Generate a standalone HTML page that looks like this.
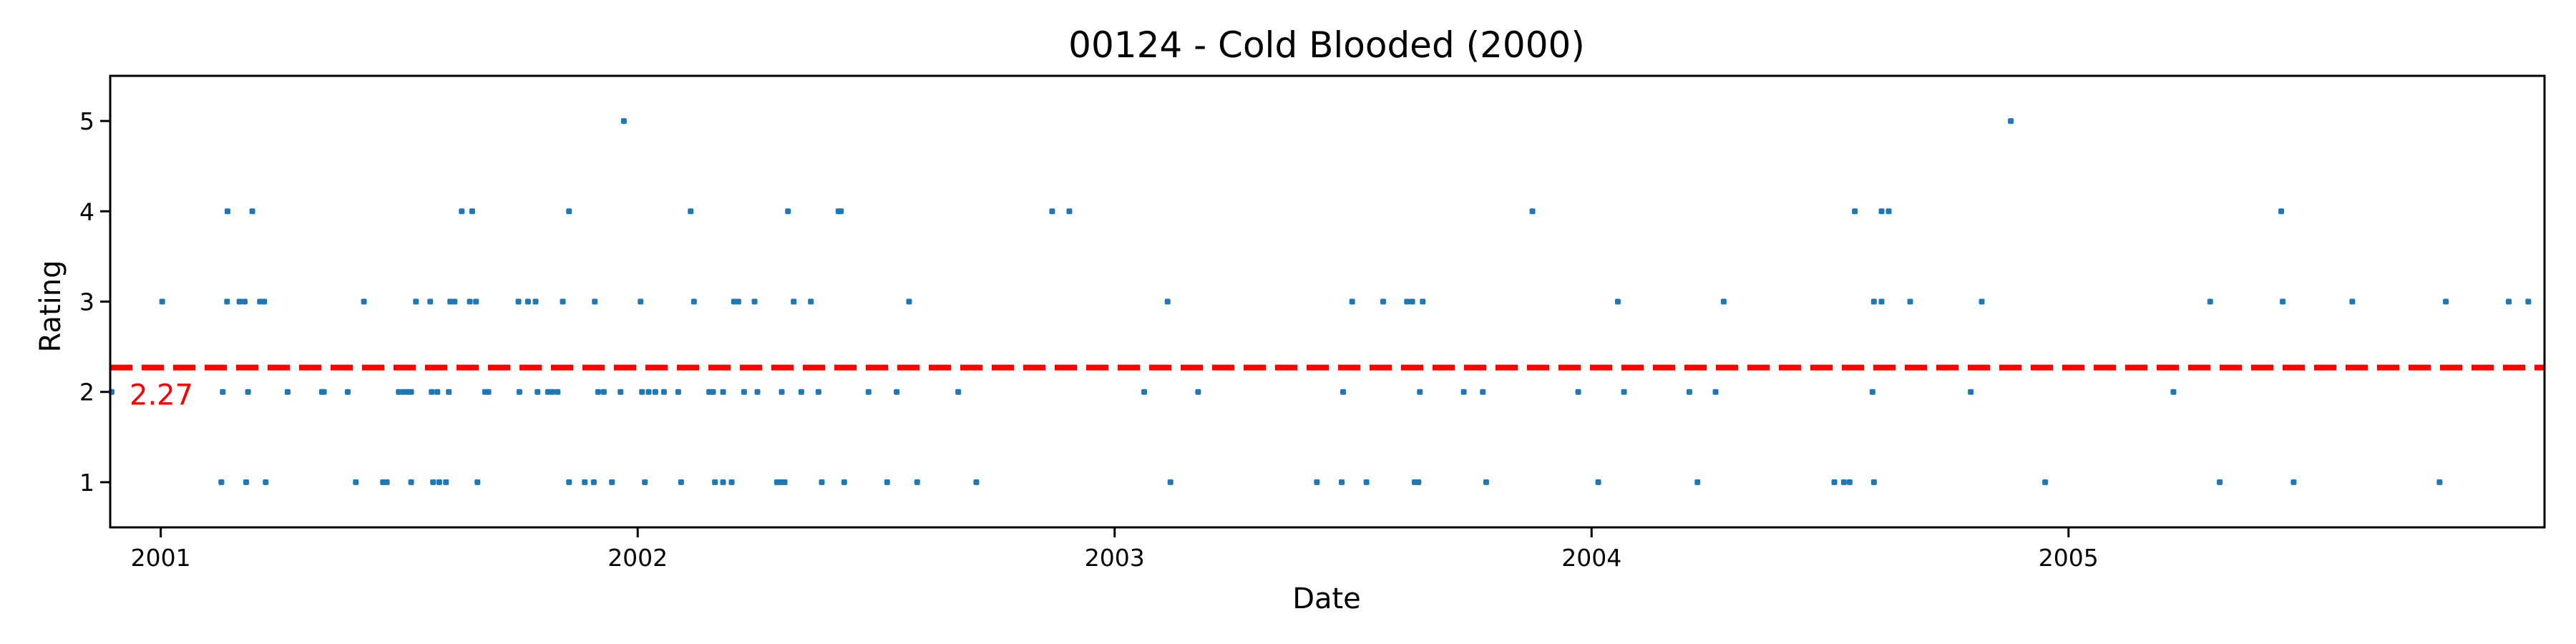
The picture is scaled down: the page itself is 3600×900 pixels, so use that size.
<!DOCTYPE html>
<html><head><meta charset="utf-8"><style>
html,body{margin:0;padding:0;background:#fff;}
svg{display:block;font-family:"DejaVu Sans","Liberation Sans",sans-serif;}
</style></head><body>
<svg id="chart" width="3600" height="900" viewBox="0 0 3600 900" xmlns="http://www.w3.org/2000/svg">
<rect width="3600" height="900" fill="#fff"/>
<text x="1854" y="80" font-size="50" text-anchor="middle" fill="#000">00124 - Cold Blooded (2000)</text>
<g id="ticks"></g>
<g id="marks"></g>
<rect x="154" y="106" width="3402" height="631" fill="none" stroke="#000" stroke-width="3"/>
<text x="1854" y="850" font-size="40" text-anchor="middle" fill="#000">Date</text>
<text x="0" y="0" font-size="40" text-anchor="middle" fill="#000" transform="translate(84,428) rotate(-90)">Rating</text>
</svg>
<script>
const meanRating = 2.27;
const xTickYears = [2001, 2002, 2003, 2004, 2005];
const xTickLabels = ["2001", "2002", "2003", "2004", "2005"];
const yTickValues = [1, 2, 3, 4, 5];
const yTickLabels = ["1", "2", "3", "4", "5"];
const dates5 = [2001.971, 2004.879];
const dates4 = [2001.140,2001.192,2001.631,2001.653,2001.856,2002.111,2002.315,2002.421,2002.426,2002.869,2002.905,2003.876,2004.552,2004.608,2004.623,2005.446];
const dates3 = [2001.003,2001.139,2001.165,2001.176,2001.208,2001.217,2001.426,2001.535,2001.565,2001.607,2001.616,2001.648,2001.661,2001.750,2001.770,2001.786,2001.843,2001.910,2002.006,2002.118,2002.202,2002.211,2002.245,2002.327,2002.363,2002.569,2003.111,2003.498,2003.563,2003.613,2003.624,2003.646,2004.055,2004.277,2004.592,2004.608,2004.668,2004.818,2005.297,2005.449,2005.595,2005.791,2005.923,2005.964];
const dates2 = [2000.897,2001.130,2001.183,2001.266,2001.338,2001.342,2001.392,2001.499,2001.509,2001.518,2001.525,2001.568,2001.580,2001.604,2001.680,2001.687,2001.752,2001.790,2001.812,2001.821,2001.832,2001.917,2001.929,2001.964,2002.009,2002.023,2002.037,2002.055,2002.085,2002.150,2002.158,2002.179,2002.223,2002.251,2002.302,2002.343,2002.379,2002.484,2002.543,2002.672,2003.062,2003.175,2003.479,2003.640,2003.732,2003.772,2003.972,2004.068,2004.205,2004.260,2004.589,2004.795,2005.220];
const dates1 = [2001.127,2001.179,2001.220,2001.409,2001.466,2001.474,2001.525,2001.571,2001.584,2001.598,2001.664,2001.856,2001.889,2001.908,2001.946,2002.015,2002.091,2002.162,2002.179,2002.197,2002.292,2002.299,2002.308,2002.386,2002.433,2002.523,2002.586,2002.710,2003.117,2003.424,2003.476,2003.528,2003.629,2003.637,2003.779,2004.014,2004.222,2004.509,2004.529,2004.541,2004.592,2004.951,2005.317,2005.472,2005.778];

const NS = "http://www.w3.org/2000/svg";
const X0 = 154, X1 = 3556, Y0 = 106, Y1 = 737;
const xMin = 2000.894, xMax = 2005.998, yMin = 0.5, yMax = 5.5;
function xScale(v){ return X0 + (v - xMin) / (xMax - xMin) * (X1 - X0); }
function yScale(v){ return Y1 - (v - yMin) / (yMax - yMin) * (Y1 - Y0); }
function mk(tag, attrs){ const e = document.createElementNS(NS, tag); for (const k in attrs) e.setAttribute(k, attrs[k]); return e; }

const ticks = document.getElementById('ticks');
xTickYears.forEach((yr, i) => {
  const x = xScale(yr);
  const t = mk('line', {x1:x, x2:x, y1:Y1, y2:Y1+14, stroke:'#000', 'stroke-width':3});
  
  
  ticks.appendChild(t);
  const l = mk('text', {x:x, y:791, 'font-size':33, 'text-anchor':'middle', fill:'#000'});
  l.textContent = xTickLabels[i];
  
  
  ticks.appendChild(l);
});
yTickValues.forEach((v, i) => {
  const y = yScale(v);
  const t = mk('line', {x1:X0-14, x2:X0, y1:y, y2:y, stroke:'#000', 'stroke-width':3});
  
  
  ticks.appendChild(t);
  const l = mk('text', {x:X0-22, y:y+12, 'font-size':33, 'text-anchor':'end', fill:'#000'});
  l.textContent = yTickLabels[i];
  
  
  ticks.appendChild(l);
});

const marks = document.getElementById('marks');
const seriesList = [[dates1,1],[dates2,2],[dates3,3],[dates4,4],[dates5,5]];
seriesList.forEach(([ds, r]) => {
  ds.forEach(d => {
    const p = mk('rect', {x:xScale(d)-4, y:yScale(r)-4, width:8, height:8, rx:2, fill:'#1f77b4'});
    
    
    marks.appendChild(p);
  });
});
const ym = yScale(meanRating);
const ml = mk('line', {x1:X0, x2:X1, y1:ym, y2:ym, stroke:'#ff0000', 'stroke-width':8, 'stroke-dasharray':'31 13'});


marks.appendChild(ml);
const mt = mk('text', {x:181, y:ym+52, 'font-size':40, fill:'#ff0000'});
mt.textContent = meanRating.toFixed(2);


marks.appendChild(mt);
</script>
</body></html>
